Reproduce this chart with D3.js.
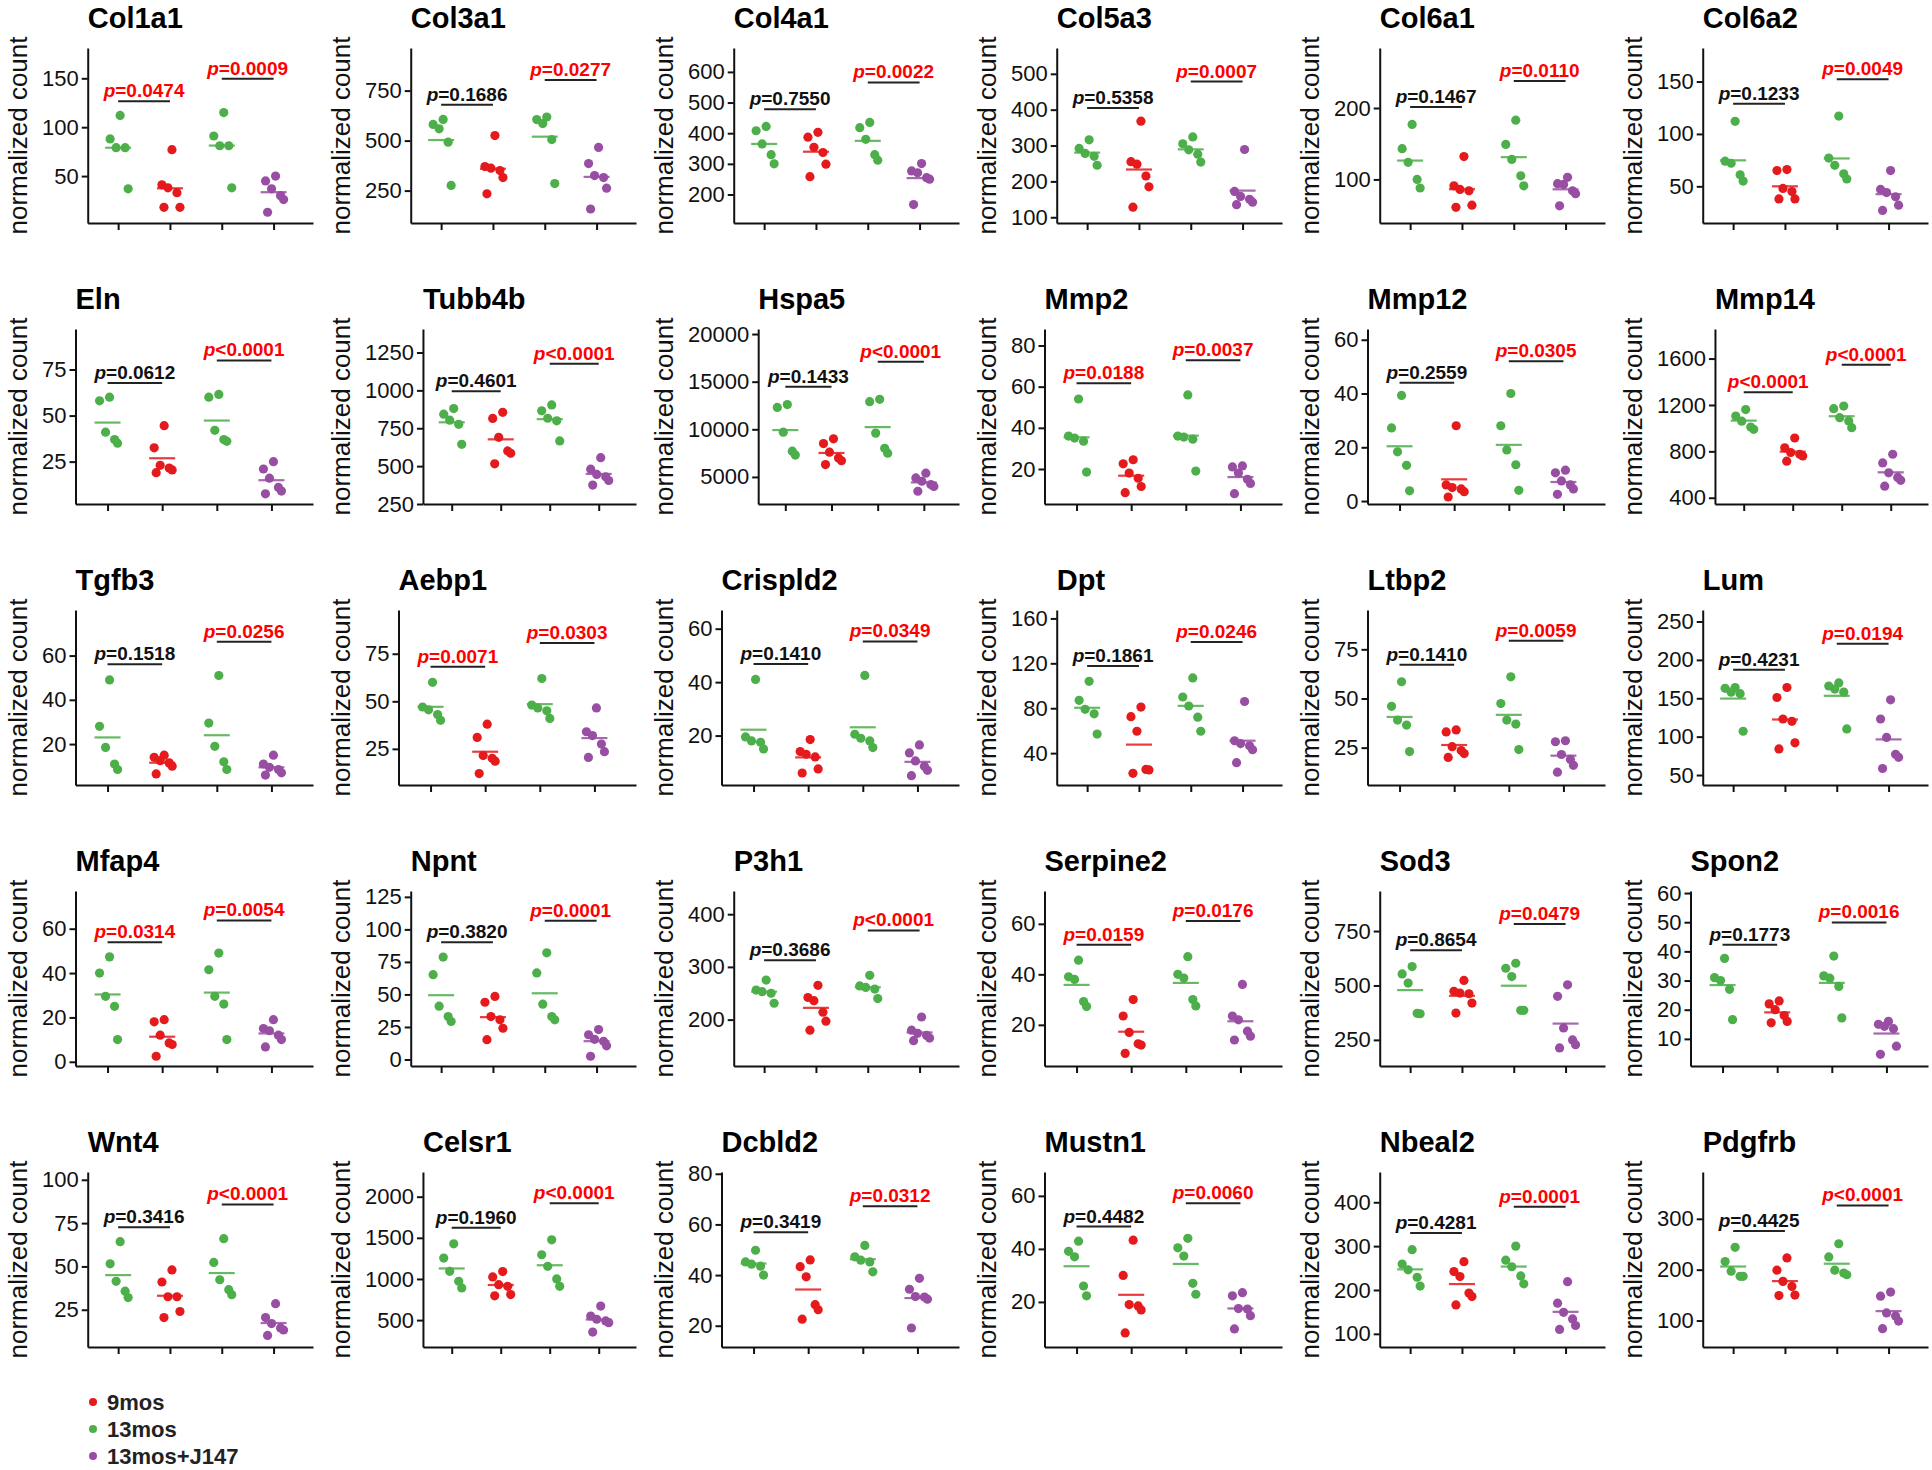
<!DOCTYPE html>
<html><head><meta charset="utf-8">
<script src="https://cdn.jsdelivr.net/npm/d3@7"></script>
<style>
body{margin:0;background:#fff;}
svg text{font-family:"Liberation Sans",Arial,Helvetica,sans-serif;}
</style></head><body>
<svg id="chart" width="1932" height="1470"></svg>
<script>
const genes = ["Col1a1","Col3a1","Col4a1","Col5a3","Col6a1","Col6a2",
  "Eln","Tubb4b","Hspa5","Mmp2","Mmp12","Mmp14",
  "Tgfb3","Aebp1","Crispld2","Dpt","Ltbp2","Lum",
  "Mfap4","Npnt","P3h1","Serpine2","Sod3","Spon2",
  "Wnt4","Celsr1","Dcbld2","Mustn1","Nbeal2","Pdgfrb"];

// 13mos (first green column)
const grp13a = [
  [112,88,79,79,37],[606,581,559,492,276],[422,408,365,330,300],[316,292,278,270,245],[177,143,124,100,88],[112,74,72,61,55],
  [60,58,41,37,35],[880,843,803,776,644],[12600,12300,9700,7700,7300],[54,36,35,33.5,18.5],[39.3,27.2,18.3,13.3,3.8],[1160,1105,1060,1010,990],
  [49,28,18.5,11,8.5],[60,47,45.5,43,40],[41,19.5,18,17.5,15],[104,87,79,75,57],[58.5,46,39,36.5,23],[164,163,158,156,107],
  [47.3,40,29.5,25,10],[78.7,65.2,41,33,29.2],[275,256,253,250,231],[45.6,39,38,29.2,27.3],[587,553,511,372,370],[37.6,31,30,27,16.6],
  [64.3,51.5,41.4,35.7,32],[1427,1254,1093,972,891],[49.8,45.2,44.3,43.5,40],[42.9,39.1,37,26,22.3],[292,259,246,229,209],[244,216,197,187,187]
];
// 9mos (red)
const grp9 = [
  [77,41,38,33,18,18],[525,370,362,350,315,234],[403,387,354,337,299,258],[368,255,248,215,185,128],[132,91,86,84,64,61],[66,65,48,45,38,38],
  [44.5,32.5,23,21.5,20.5,19],[855,815,690,600,585,515],[9000,8500,7600,7000,6700,6300],[24.5,22.5,18,15.5,11.5,8.5],[28,6,5,4.5,3.5,1.5],[915,830,790,775,760,715],
  [15,14,12.5,11.5,10,6.5],[38,31,21.5,20,18.5,12],[18.5,14,13,12,7.5,6],[81,72.5,59.5,25.5,25,22],[34,33,25.5,23.5,22,20],[164,151,123,120,92,84],
  [19,18,12,8.5,7.8,2.5],[48.5,44,33,30.5,24,15.2],[265,242,236,214,197,180],[30,23.5,17,12.5,12,8.7],[523,473,465,462,419,373],[23,22,20,18,16,15.5],
  [48,41,32.5,32.5,24,20.5],[1090,1025,930,910,810,795],[46,43.3,39.3,28.3,26.3,22.6],[43.3,30,19,18.5,17,8.3],[264.5,242,230.5,193,185,166],[223,199,177,167,150,149]
];
// 13mos (second green column)
const grp13b = [
  [115,91,81,81,38],[618,605,585,505,285],[435,418,380,330,312],[324,305,288,276,254],[183,149,128,105,91],[117,77,70,62,57],
  [61.5,60,42,37,36],[904,865,816,799,666],[13150,12900,9600,8000,7500],[56,36,35.5,34.5,19],[40,28,19,13.5,4],[1190,1168,1090,1062,1004],
  [51,29.5,19,12,8.5],[62,48,46.5,45,41],[42.5,20.5,19,18,15.5],[107,90,82,72,59.5],[61,47.4,39,37,24],[170,166,162,158,110],
  [49,41.5,29.5,26,10],[82,66.5,42.5,33,30.5],[284,264,261,258,240],[47,40,38.5,30,27.5],[602,579,541,386,386],[38.4,31.6,30.8,28,17.2],
  [66,52.3,42.3,36.6,33.7],[1476,1294,1153,1000,911],[51.7,47.2,45.9,45.2,41.3],[44,40.4,37.3,27,22.9],[300,268,253,232,214],[251,225,199,193.5,190]
];
// 13mos+J147 (purple)
const grpJ147 = [
  [50,45,37,30,26,13],[466,385,325,315,262,158],[301,277,271,255,250,167],[289,172,158,150,142,135],[103,94,93,84,80,63],[65,47,44,40,32,27],
  [25,21,16,11,9,7.5],[556,480,445,430,405,375],[5400,4900,4550,4200,4000,3500],[21.5,21,18,15,13,8],[11.5,10.5,7.5,6,4.5,2.5],[775,700,615,575,550,500],
  [15,11,9.5,8.5,7,6],[46.5,34,32,27.5,23.5,20.5],[16.5,13.5,10.5,8.5,7,5],[86,51,48.5,46.5,43,31.5],[28.5,28,21.5,19,16,12.5],[148,123,99,77,73,58.5],
  [19,15,14,12,10,6.7],[23,19,15.5,14,10.5,2.5],[205,180,174,170,165,160],[36,23.5,22,17.5,15.5,14],[503,450,305,250,228,213],[16,15,14.3,13.5,7.5,4.7],
  [28.5,20.5,17,14.5,13.3,10.2],[670,550,510,490,468,355],[38.7,34.4,31.5,31.3,30.5,19.1],[23.5,22.3,17.5,17.3,14.8,9.8],[219,170,149,134,119,110],[156,148,115,109,99,84]
];

const pLeft = ["=0.0474","=0.1686","=0.7550","=0.5358","=0.1467","=0.1233",
  "=0.0612","=0.4601","=0.1433","=0.0188","=0.2559","<0.0001",
  "=0.1518","=0.0071","=0.1410","=0.1861","=0.1410","=0.4231",
  "=0.0314","=0.3820","=0.3686","=0.0159","=0.8654","=0.1773",
  "=0.3416","=0.1960","=0.3419","=0.4482","=0.4281","=0.4425"];
const pRight = ["=0.0009","=0.0277","=0.0022","=0.0007","=0.0110","=0.0049",
  "<0.0001","<0.0001","<0.0001","=0.0037","=0.0305","<0.0001",
  "=0.0256","=0.0303","=0.0349","=0.0246","=0.0059","=0.0194",
  "=0.0054","=0.0001","<0.0001","=0.0176","=0.0479","=0.0016",
  "<0.0001","<0.0001","=0.0312","=0.0060","=0.0001","<0.0001"];

const yTicks = [
  [50,100,150],[250,500,750],[200,300,400,500,600],[100,200,300,400,500],[100,200],[50,100,150],
  [25,50,75],[250,500,750,1000,1250],[5000,10000,15000,20000],[20,40,60,80],[0,20,40,60],[400,800,1200,1600],
  [20,40,60],[25,50,75],[20,40,60],[40,80,120,160],[25,50,75],[50,100,150,200,250],
  [0,20,40,60],[0,25,50,75,100,125],[200,300,400],[20,40,60],[250,500,750],[10,20,30,40,50,60],
  [25,50,75,100],[500,1000,1500,2000],[20,40,60,80],[20,40,60],[100,200,300,400],[100,200,300]
];
const yRange = [
  [2,181],[88,963],[107,678],[84,572],[39,284],[15,182],
  [2,97],[250,1405],[2160,20530],[3,88],[-1.1,64],[346,1855],
  [1.5,80.6],[6,98],[1.5,67],[11.6,167.5],[6,95],[37,265],
  [-1.9,77],[-5,129.5],[112,444],[3.7,73],[130,934],[0.7,60.7],
  [3.5,104.5],[173,2300],[11.6,80.7],[3,69],[70,469],[48,392]
];

const legendNames = ["9mos","13mos","13mos+J147"];

// ---- styles / layout ----
const GREEN = "#4daf4a", RED = "#e41a1c", PURPLE = "#984ea3";
const groupColors = [GREEN, RED, GREEN, PURPLE];
const legendColors = [RED, GREEN, PURPLE];
const colPitch = 323, rowPitch = 281, top0 = 48, plotH = 175;
const labelStart = 41, endOff = 313;
const jitter = [2, -8, -2, 7, 10, -6];
const INK = "#111";

const svg = d3.select("#chart");
const measure = svg.append("text").attr("font-size", 22).attr("x", -1000).attr("y", -1000);
function textW(s){ measure.text(s); return measure.node().getComputedTextLength(); }
const fmt = d3.format("d");

genes.forEach((gene, i) => {
  const col = i % 6, row = Math.floor(i / 6);
  const ox = col * colPitch;
  const top = top0 + row * rowPitch, bottom = top + plotH;
  const groups = [grp13a[i], grp9[i], grp13b[i], grpJ147[i]];
  const maxW = d3.max(yTicks[i], t => textW(fmt(t)));
  const axisX = ox + labelStart + maxW + 10;
  const endX = ox + endOff;
  const y = d3.scaleLinear().domain(yRange[i]).range([bottom, top]);
  const x = d3.scaleLinear().domain([-0.587, 3.761]).range([axisX, endX]);
  const g = svg.append("g");

  // y axis
  const ya = g.append("g").attr("transform", `translate(${axisX},0)`)
    .call(d3.axisLeft(y).tickValues(yTicks[i]).tickFormat(fmt).tickSize(6).tickPadding(3).tickSizeOuter(0));
  ya.select(".domain").attr("stroke", INK).attr("stroke-width", 2);
  ya.selectAll(".tick line").attr("stroke", INK).attr("stroke-width", 2);
  ya.selectAll(".tick text").attr("font-size", 22).attr("fill", INK)
    .attr("font-family", '"Liberation Sans",Arial,sans-serif');

  // x axis
  const xa = g.append("g").attr("transform", `translate(0,${bottom})`)
    .call(d3.axisBottom(x).tickValues([0,1,2,3]).tickFormat("").tickSize(7).tickSizeOuter(0));
  xa.select(".domain").attr("stroke", INK).attr("stroke-width", 2);
  xa.selectAll(".tick line").attr("stroke", INK).attr("stroke-width", 2);

  // y label
  g.append("text").attr("transform", `translate(${ox + 27},${(top + bottom) / 2}) rotate(-90)`)
    .attr("text-anchor", "middle").attr("font-size", 26).attr("fill", INK).text("normalized count");

  // title
  g.append("text").attr("x", axisX).attr("y", top - 20).attr("font-size", 29)
    .attr("font-weight", "bold").attr("fill", "#000").text(gene);

  // dots + mean lines
  groups.forEach((vals, gi) => {
    const cx = x(gi);
    g.append("g").selectAll("circle").data(vals).join("circle")
      .attr("cx", (d, k) => cx + jitter[k % jitter.length])
      .attr("cy", d => y(d)).attr("r", 4.6).attr("fill", groupColors[gi]);
    const m = d3.mean(vals);
    g.append("line").attr("x1", cx - 13).attr("x2", cx + 13)
      .attr("y1", y(m)).attr("y2", y(m))
      .attr("stroke", groupColors[gi]).attr("stroke-width", 2.2).attr("opacity", 0.85);
  });

  // brackets
  const allMax = d3.max(groups.flat());
  const brackets = [
    {a: 0, b: 1, v: allMax * 1.1, p: pLeft[i]},
    {a: 2, b: 3, v: allMax * 1.3, p: pRight[i]}
  ];
  brackets.forEach(br => {
    const by = y(br.v);
    const pv = parseFloat(br.p.slice(1));
    const color = pv < 0.05 ? "#ff0000" : INK;
    g.append("line").attr("x1", x(br.a)).attr("x2", x(br.b)).attr("y1", by).attr("y2", by)
      .attr("stroke", "#222").attr("stroke-width", 2);
    const t = g.append("text").attr("x", (x(br.a) + x(br.b)) / 2).attr("y", by - 4)
      .attr("text-anchor", "middle").attr("font-size", 19).attr("font-weight", "bold").attr("fill", color);
    t.append("tspan").attr("font-style", "italic").text("p");
    t.append("tspan").text(br.p);
  });
});
measure.remove();

// legend
const lg = svg.append("g");
legendNames.forEach((name, k) => {
  const ly = 1402 + k * 27;
  lg.append("circle").attr("cx", 93).attr("cy", ly).attr("r", 4).attr("fill", legendColors[k]);
  lg.append("text").attr("x", 107).attr("y", ly + 8).attr("font-size", 22).attr("font-weight", "bold")
    .attr("fill", "#222").text(name);
});
</script>
</body></html>
